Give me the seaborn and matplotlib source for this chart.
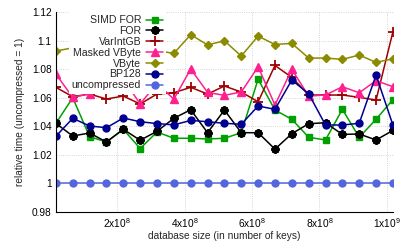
import numpy as np
import pandas as pd
import matplotlib
matplotlib.use("Agg")
import matplotlib.pyplot as plt
import seaborn as sns
from matplotlib.ticker import FuncFormatter

sns.set_style("white")
plt.rcParams['font.family'] = ['Liberation Sans', 'DejaVu Sans']
plt.rcParams['mathtext.fontset'] = 'custom'
plt.rcParams['mathtext.rm'] = 'Liberation Sans'
plt.rcParams['mathtext.it'] = 'Liberation Sans'

# database sizes (number of keys)
db_size = [1.8e7, 6.8e7, 1.18e8, 1.68e8, 2.18e8, 2.68e8, 3.18e8, 3.68e8, 4.18e8, 4.68e8,
           5.18e8, 5.68e8, 6.18e8, 6.68e8, 7.18e8, 7.68e8, 8.18e8, 8.68e8, 9.18e8, 9.68e8, 1.018e9]

simd_for = [1.0421, 1.0600, 1.0327, 1.0290, 1.0379, 1.0244, 1.0360, 1.0316, 1.0316, 1.0311, 1.0316,
            1.0355, 1.0730, 1.0514, 1.0449, 1.0323, 1.0304, 1.0519, 1.0323, 1.0449, 1.0587]
for_ = [1.0420, 1.0332, 1.0353, 1.0290, 1.0379, 1.0302, 1.0365, 1.0456, 1.0516, 1.0355, 1.0514,
        1.0355, 1.0355, 1.0240, 1.0348, 1.0418, 1.0425, 1.0343, 1.0346, 1.0304, 1.0371]
varintgb = [1.0673, 1.0607, 1.0626, 1.0591, 1.0612, 1.0556, 1.0626, 1.0635, 1.0673, 1.0626, 1.0682,
            1.0640, 1.0572, 1.0826, 1.0743, 1.0619, 1.0619, 1.0619, 1.0603, 1.0584, 1.1062]
masked_vbyte = [1.0766, 1.0602, 1.0628, 1.0750, 1.0730, 1.0557, 1.0700, 1.0590, 1.0802, 1.0637, 1.0617,
                1.0640, 1.0817, 1.0549, 1.0799, 1.0612, 1.0619, 1.0677, 1.0635, 1.0720, 1.0677]
vbyte = [1.0927, 1.0950, 1.0970, 1.0940, 1.0960, 1.0950, 1.0930, 1.0911, 1.1042, 1.0970, 1.0999,
         1.0892, 1.1032, 1.0973, 1.0981, 1.0878, 1.0878, 1.0869, 1.0899, 1.0848, 1.0873]
bp128 = [1.0330, 1.0456, 1.0402, 1.0390, 1.0458, 1.0432, 1.0419, 1.0410, 1.0441, 1.0432, 1.0421,
         1.0414, 1.0542, 1.0519, 1.0724, 1.0628, 1.0409, 1.0409, 1.0421, 1.0759, 1.0409]
uncompressed = [1.0] * len(db_size)

series = [
    ("SIMD FOR", simd_for, "#00a000", "s", 5.0, 1.0),
    ("FOR", for_, "#000000", (8, 2, 0), 6.0, 1.6),
    ("VarIntGB", varintgb, "#a00000", "+", 6.5, 1.3),
    ("Masked VByte", masked_vbyte, "#ff2090", "^", 6.0, 1.0),
    ("VByte", vbyte, "#8b8b00", "D", 4.5, 1.0),
    ("BP128", bp128, "#000090", "o", 5.0, 1.0),
    ("uncompressed", uncompressed, "#5566dd", "o", 5.0, 1.0),
]

fig = plt.figure(figsize=(4.11, 2.47), dpi=100)
ax = fig.add_axes([0.136, 0.142, 0.820, 0.809])

for name, vals, color, marker, ms, mew in series:
    df = pd.DataFrame({"size": db_size, "time": vals})
    sns.lineplot(data=df, x="size", y="time", ax=ax, color=color, marker=marker,
                 markersize=ms, markeredgewidth=mew, markeredgecolor=color,
                 linewidth=1.1, label=name)

ax.set_xlim(db_size[0], db_size[-1])
ax.set_ylim(0.98, 1.12)
ax.set_xticks([2e8, 4e8, 6e8, 8e8, 1e9])
ax.set_xticklabels([r"2x10$^8$", r"4x10$^8$", r"6x10$^8$", r"8x10$^8$", r"1x10$^9$"])
ax.set_yticks([0.98, 1.0, 1.02, 1.04, 1.06, 1.08, 1.1, 1.12])
ax.yaxis.set_major_formatter(FuncFormatter(lambda v, p: "%g" % round(v, 2)))
ax.tick_params(direction="in", length=4, width=0.6, labelsize=7.3, pad=3, colors="#000000")
ax.grid(True, linestyle=":", linewidth=0.6, color="#c8c8c8")
for s in ["top", "right"]:
    ax.spines[s].set_visible(False)
for s in ["left", "bottom"]:
    ax.spines[s].set_color("black")
    ax.spines[s].set_linewidth(0.8)

ax.set_xlabel("database size (in number of keys)", fontsize=7.3, labelpad=1)
ax.set_ylabel("relative time (uncompressed = 1)", fontsize=7.3, labelpad=5)

leg = ax.legend(loc="upper right", bbox_to_anchor=(0.328, 1.0), fontsize=7.6, markerfirst=False,
                frameon=True, framealpha=1, facecolor="white", edgecolor="none", fancybox=False,
                handlelength=1.6, handletextpad=0.5, labelspacing=0.08, borderpad=0.3,
                borderaxespad=0.0)
leg.set_zorder(5)

fig.savefig("out.png", dpi=100)
